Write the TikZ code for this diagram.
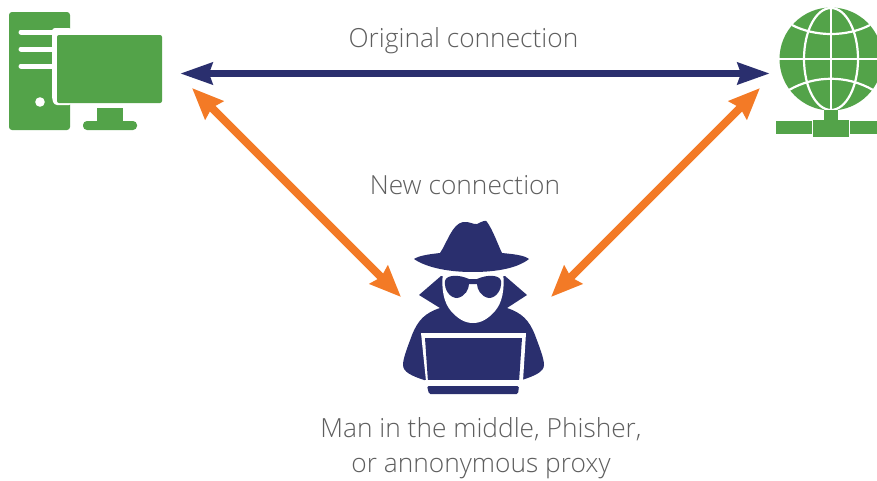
\documentclass[tikz,border=0pt]{standalone}
\usepackage{fontspec}
\setmainfont{Open Sans}[UprightFont={* Light}]
\usetikzlibrary{arrows.meta}
\definecolor{gr}{HTML}{53A349}
\definecolor{nv}{HTML}{2A2F6E}
\definecolor{og}{HTML}{F37A26}
\definecolor{tx}{HTML}{5E5E5E}
\tikzset{
  green part/.style={fill=gr,draw=none},
  navy part/.style={fill=nv,draw=none},
  white part/.style={fill=white,draw=none},
  slit/.style={draw=white,line width=5pt,line cap=round},
  globe line/.style={draw=white,line width=2.2pt},
  label text/.style={text=tx,font=\fontsize{26.3}{35}\selectfont,align=center,inner sep=0pt},
  link navy/.style={draw=nv,line width=7.5pt,{Stealth[length=32pt,width=21pt,inset=3pt]}-{Stealth[length=32pt,width=21pt,inset=3pt]}},
  link orange/.style={draw=og,line width=8pt,{Stealth[length=31pt,width=25pt,inset=3pt]}-{Stealth[length=31pt,width=25pt,inset=3pt]}}
}
\begin{document}
\begin{tikzpicture}[x=1pt,y=-1pt]
\useasboundingbox (0,0) rectangle (877,480);
\fill[white] (0,0) rectangle (877,480);
% computer
\fill[green part,rounded corners=3pt] (9,12) -- (70,12) -- (70,130) -- (9,130) -- cycle;
\fill[white part,rounded corners=3pt] (52,28) -- (52,98) -- (54,105) -- (72,105) -- (72,28) -- cycle;
\draw[slit] (21,32) -- (54,32);
\draw[slit] (21,49) -- (54,49);
\draw[slit] (21,66) -- (54,66);
\fill[white part] (40,102) circle (4.8);
\fill[green part,rounded corners=2pt] (57,35) rectangle (162,103);
\fill[green part] (97,108) rectangle (123,123);
\fill[green part,rounded corners=4pt] (83,121) rectangle (137,130);
% globe
\begin{scope}
\clip (770,0) rectangle (877,140);
\fill[green part] (831,59) circle (51.5);
\draw[globe line] (779,59) -- (884,59);
\draw[globe line] (831,7) -- (831,111);
\draw[globe line] (831,59) ellipse (27 and 51);
\draw[globe line] (792,25) .. controls (815,37) and (847,37) .. (870,25);
\draw[globe line] (789,90) .. controls (815,75) and (847,75) .. (873,90);
\end{scope}
\fill[green part] (776,121) rectangle (812,134);
\fill[green part] (812.5,120) rectangle (849,137);
\fill[green part] (850,121) rectangle (877,134);
\fill[green part] (824,110) rectangle (838,121);
% hacker
\fill[navy part] (414,259) .. controls (420,255) and (432,254) .. (440,253)
  .. controls (447,243) and (452,224) .. (463,222) .. controls (469,221) and (474,225) .. (477,224)
  .. controls (481,222) and (487,219) .. (487,222) .. controls (493,230) and (498,245) .. (502,253)
  .. controls (512,254) and (524,255) .. (529,259) .. controls (515,270) and (490,272) .. (472,272)
  .. controls (450,272) and (427,268) .. (414,259) -- cycle;
\fill[navy part] (441,276) -- (419,295) -- (440,308) .. controls (425,313) and (418,320) .. (412,335)
  .. controls (408,346) and (403,358) .. (403,365) .. controls (403,372) and (412,376) .. (424,380)
  -- (522,380) .. controls (534,376) and (544,372) .. (544,365) .. controls (544,358) and (539,346) .. (535,335)
  .. controls (529,320) and (522,313) .. (507,308) -- (527,295) -- (505,276) -- cycle;
\fill[white part] (443,272) -- (503,272) .. controls (505,290) and (502,303) .. (495,311)
  .. controls (488,319) and (481,323) .. (473,323) .. controls (465,323) and (458,319) .. (451,311)
  .. controls (444,303) and (441,290) .. (443,272) -- cycle;
\fill[navy part] (445,281) .. controls (446,275) and (458,274) .. (469,279)
  -- (477,279) .. controls (488,274) and (500,275) .. (501,281)
  .. controls (502,290) and (496,298) .. (489,298) .. controls (481,297) and (477,289) .. (477,284)
  -- (469,284) .. controls (469,289) and (465,297) .. (457,298)
  .. controls (450,298) and (444,290) .. (445,281) -- cycle;
\fill[white part] (421,333) -- (526,333) -- (523,381) -- (426,381) -- cycle;
\fill[navy part] (425,338) -- (522,338) -- (519,382) -- (428,382) -- cycle;
\fill[white part] (425,380) rectangle (522,386);
\fill[navy part,rounded corners=1.5pt] (427,386) -- (519,386) -- (518,394) -- (429,394) -- cycle;
% anchors
\coordinate (pc) at (180,73.5);
\coordinate (net) at (770,73.5);
\coordinate (pcb) at (192,88);
\coordinate (netb) at (760,88);
\coordinate (spyl) at (401,297);
\coordinate (spyr) at (551,297);
\draw[link navy] (pc) -- (net);
\draw[link orange] (pcb) -- (spyl);
\draw[link orange] (netb) -- (spyr);
\node[label text] (orig) at (463.5,41) {Original connection};
\node[label text] (new) at (465,185) {New connection};
\node[label text] (mitm) at (481,448) {Man in the middle, Phisher,\\or annonymous proxy};
\end{tikzpicture}
\end{document}
